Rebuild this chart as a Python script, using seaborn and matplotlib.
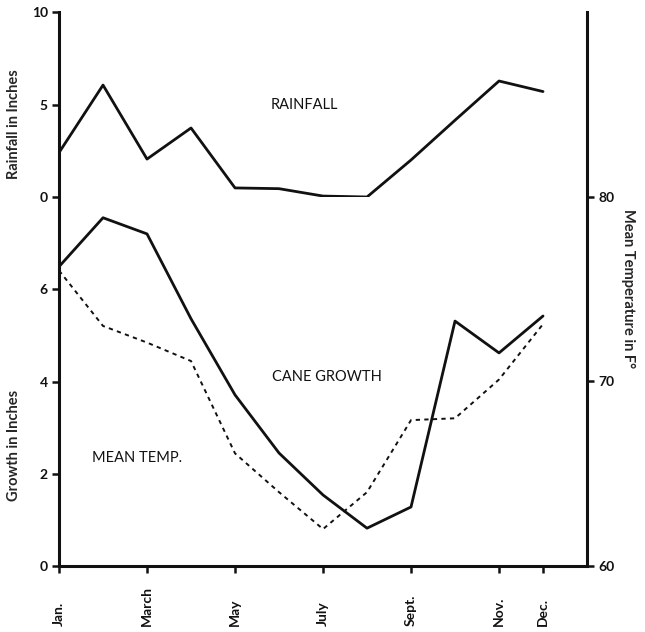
import matplotlib
matplotlib.use("Agg")
import matplotlib.pyplot as plt
import seaborn as sns
import pandas as pd

# ---- data ----
months = ["Jan.", "Feb.", "March", "April", "May", "June",
          "July", "Aug.", "Sept.", "Oct.", "Nov.", "Dec."]
month_index = list(range(12))
rainfall = [2.4, 6.05, 2.05, 3.73, 0.49, 0.45, 0.05, 0.0, 2.0, 4.15, 6.27, 5.7]
growth = [6.49, 7.55, 7.20, 5.36, 3.71, 2.45, 1.54, 0.82, 1.28, 5.31, 4.62, 5.42]
mean_temp = [76.0, 73.0, 72.1, 71.1, 66.1, 64.0, 62.0, 64.0, 67.9, 68.0, 70.1, 73.1]
tick_months = [0, 2, 4, 6, 8, 10, 11]
tick_labels = ["Jan.", "March", "May", "July", "Sept.", "Nov.", "Dec."]
rain_ticks = [0, 5, 10]
growth_ticks = [0, 2, 4, 6]
temp_ticks = [60, 70, 80]

df = pd.DataFrame({"month": month_index, "rain": rainfall,
                   "growth": growth, "temp": mean_temp})

sns.set_style("ticks")
plt.rcParams["font.family"] = ["Lato", "DejaVu Sans"]
plt.rcParams["font.size"] = 10

fig = plt.figure(figsize=(6.45, 6.32), dpi=100)
L, W = 0.0915, 0.8186
ax_temp = fig.add_axes([L, 0.1044, W, 0.8766])
ax_growth = fig.add_axes([L, 0.1044, W, 0.5839])
ax_rain = fig.add_axes([L, 0.6883, W, 0.2927])

ink = "#111111"
spine_w = 2.2
lab_kw = dict(fontweight="bold", fontsize=10.5)
ann_kw = dict(ha="center", va="center", color=ink, fontsize=10.5)

# temperature (full height, right axis)
sns.lineplot(data=df, x="month", y="temp", ax=ax_temp, color=ink,
             linewidth=1.4, linestyle=(0, (2.2, 2.2)))
ax_temp.set_xlim(0, 12)
ax_temp.set_ylim(60, 90)
ax_temp.yaxis.tick_right()
ax_temp.set_yticks(temp_ticks)
ax_temp.set_yticklabels([str(t) for t in temp_ticks], fontweight="bold")
ax_temp.spines["top"].set_visible(False)
for s in ["left", "right", "bottom"]:
    ax_temp.spines[s].set_linewidth(spine_w)
    ax_temp.spines[s].set_color(ink)
ax_temp.tick_params(axis="y", which="both", direction="out", length=5, width=1.8,
                    pad=3, colors=ink, left=False, right=True)
ax_temp.set_xticks(tick_months)
ax_temp.set_xticklabels(tick_labels, rotation=90, rotation_mode="anchor",
                        ha="left", va="center", fontweight="bold")
ax_temp.tick_params(axis="x", direction="out", length=5, width=1.8, pad=38,
                    colors=ink)
ax_temp.set_xlabel("")
ax_temp.set_ylabel("Mean Temperature in F°", rotation=270, va="center",
                   ha="center", **lab_kw)
ax_temp.yaxis.set_label_position("right")
ax_temp.yaxis.set_label_coords(1.092, 0.5)

# growth (lower part, left axis)
sns.lineplot(data=df, x="month", y="growth", ax=ax_growth, color=ink, linewidth=2.0)
ax_growth.set_xlim(0, 12)
ax_growth.set_ylim(0, 8)
ax_growth.patch.set_alpha(0)
for s in ax_growth.spines.values():
    s.set_visible(False)
ax_growth.set_xticks([])
ax_growth.set_xlabel("")
ax_growth.set_yticks(growth_ticks)
ax_growth.set_yticklabels([str(t) for t in growth_ticks], fontweight="bold")
ax_growth.tick_params(axis="y", direction="out", length=5, width=1.8, pad=3, colors=ink)
ax_growth.set_ylabel("Growth in Inches", **lab_kw)
ax_growth.yaxis.set_label_coords(-0.072, 0.328)
ax_growth.text(6.08, 4.1, "CANE GROWTH", **ann_kw)
ax_growth.text(1.78, 2.34, "MEAN TEMP.", **ann_kw)

# rainfall (upper part, left axis)
sns.lineplot(data=df, x="month", y="rain", ax=ax_rain, color=ink, linewidth=2.0)
ax_rain.set_xlim(0, 12)
ax_rain.set_ylim(0, 10)
ax_rain.patch.set_alpha(0)
for s in ax_rain.spines.values():
    s.set_visible(False)
ax_rain.set_xticks([])
ax_rain.set_xlabel("")
ax_rain.set_yticks(rain_ticks)
ax_rain.set_yticklabels([str(t) for t in rain_ticks], fontweight="bold")
ax_rain.tick_params(axis="y", direction="out", length=5, width=1.8, pad=3, colors=ink)
ax_rain.set_ylabel("Rainfall in Inches", **lab_kw)
ax_rain.yaxis.set_label_coords(-0.072, 0.395)
ax_rain.text(5.58, 5.0, "RAINFALL", **ann_kw)

fig.savefig("out.png", dpi=100)
